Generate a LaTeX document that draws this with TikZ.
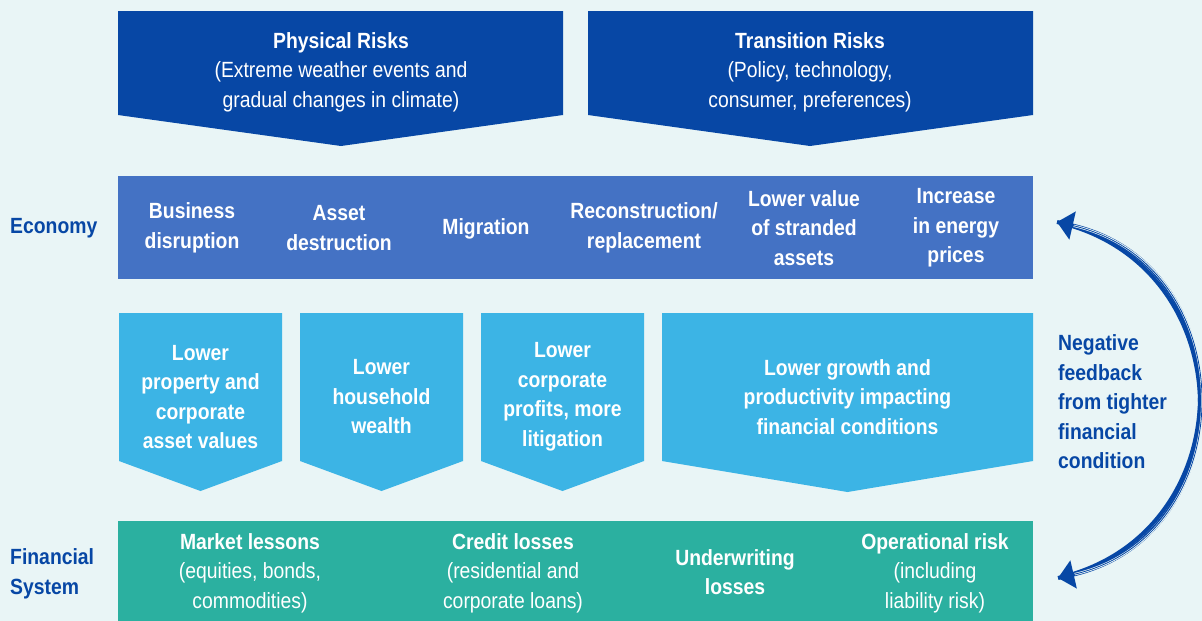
\documentclass[tikz,border=0pt]{standalone}
\usepackage{fontspec}
\setmainfont{Liberation Sans}[FakeStretch=0.88]
\usetikzlibrary{arrows.meta}
\definecolor{bgmint}{HTML}{E9F5F6}
\definecolor{navy}{HTML}{0747A5}
\definecolor{econ}{HTML}{4472C4}
\definecolor{sky}{HTML}{3CB4E5}
\definecolor{teal}{HTML}{2BB0A0}
\begin{document}
\begin{tikzpicture}[x=1pt,y=-1pt,
  boxtext/.style={text=white, align=center, inner sep=0pt,
    font=\fontsize{22}{29.5}\selectfont},
  econtext/.style={boxtext, font=\fontsize{22}{29.5}\selectfont\bfseries},
  sidelabel/.style={text=navy, align=left, anchor=west, inner sep=0pt,
    font=\fontsize{22}{29.5}\selectfont\bfseries},
  fbtip/.style={-{Triangle[length=16pt,width=28pt]}},
]
% background
\fill[bgmint] (0,0) rectangle (1202,621);
\useasboundingbox (0,0) rectangle (1202,621);

% risk sources
\fill[navy] (118,11) -- (563,11) -- (563,115) -- (341,146) -- (118,115) -- cycle;
\fill[navy] (588,11) -- (1033,11) -- (1033,115) -- (810,146) -- (588,115) -- cycle;
\node[boxtext] (phys) at (341,72) {\textbf{Physical Risks}\\(Extreme weather events and\\gradual changes in climate)};
\node[boxtext] (trans) at (810,72) {\textbf{Transition Risks}\\(Policy, technology,\\consumer, preferences)};

% economy band
\fill[econ] (118,176) rectangle (1033,279);
\node[econtext] (e1) at (192,228) {Business\\disruption};
\node[econtext] (e2) at (339,228) {Asset\\destruction};
\node[econtext] (e3) at (486,229) {Migration};
\node[econtext] (e4) at (644,228) {Reconstruction/\\replacement};
\node[econtext] (e5) at (804,228) {Lower value\\of stranded\\assets};
\node[econtext] (e6) at (956,228) {Increase\\in energy\\prices};

% transmission channels
\fill[sky] (119,313) -- (282,313) -- (282,461) -- (200.5,491) -- (119,461) -- cycle;
\fill[sky] (300,313) -- (463,313) -- (463,461) -- (381.5,491) -- (300,461) -- cycle;
\fill[sky] (481,313) -- (644,313) -- (644,461) -- (562.5,491) -- (481,461) -- cycle;
\fill[sky] (662,313) -- (1033,313) -- (1033,461) -- (847.5,492) -- (662,461) -- cycle;
\node[econtext] (m1) at (200.5,397) {Lower\\property and\\corporate\\asset values};
\node[econtext] (m2) at (381.5,397) {Lower\\household\\wealth};
\node[econtext] (m3) at (562.5,397) {Lower\\corporate\\profits, more\\litigation};
\node[econtext] (m4) at (847.5,397) {Lower growth and\\productivity impacting\\financial conditions};

% financial system band
\fill[teal] (118,521) rectangle (1033,621);
\node[boxtext] (f1) at (250,573) {\textbf{Market lessons}\\(equities, bonds,\\commodities)};
\node[boxtext] (f2) at (513,573) {\textbf{Credit losses}\\(residential and\\corporate loans)};
\node[econtext] (f3) at (735,572) {Underwriting\\losses};
\node[boxtext] (f4) at (935,573) {\textbf{Operational risk}\\(including\\liability risk)};

% row labels
\node[sidelabel] (lecon) at (10,228) {Economy};
\node[sidelabel] (lfin) at (10,574) {Financial\\System};

% feedback loop
\node[sidelabel] (fbl) at (1058,402) {Negative\\feedback\\from tighter\\financial\\condition};
\coordinate (fbtop) at (1057,222);
\coordinate (fbbot) at (1058,578);
\draw[navy, line width=4pt, fbtip] (fbbot) .. controls (1245,535) and (1245,265) .. (fbtop);
\draw[navy, line width=4pt, fbtip] (fbtop) .. controls (1245,265) and (1245,535) .. (fbbot);
\draw[bgmint, line width=2.4pt, shorten <=17pt, shorten >=17pt] (fbtop) .. controls (1245,265) and (1245,535) .. (fbbot);
\draw[navy, line width=0.8pt, shorten <=16pt, shorten >=16pt] (fbtop) .. controls (1245,265) and (1245,535) .. (fbbot);
\end{tikzpicture}
\end{document}
